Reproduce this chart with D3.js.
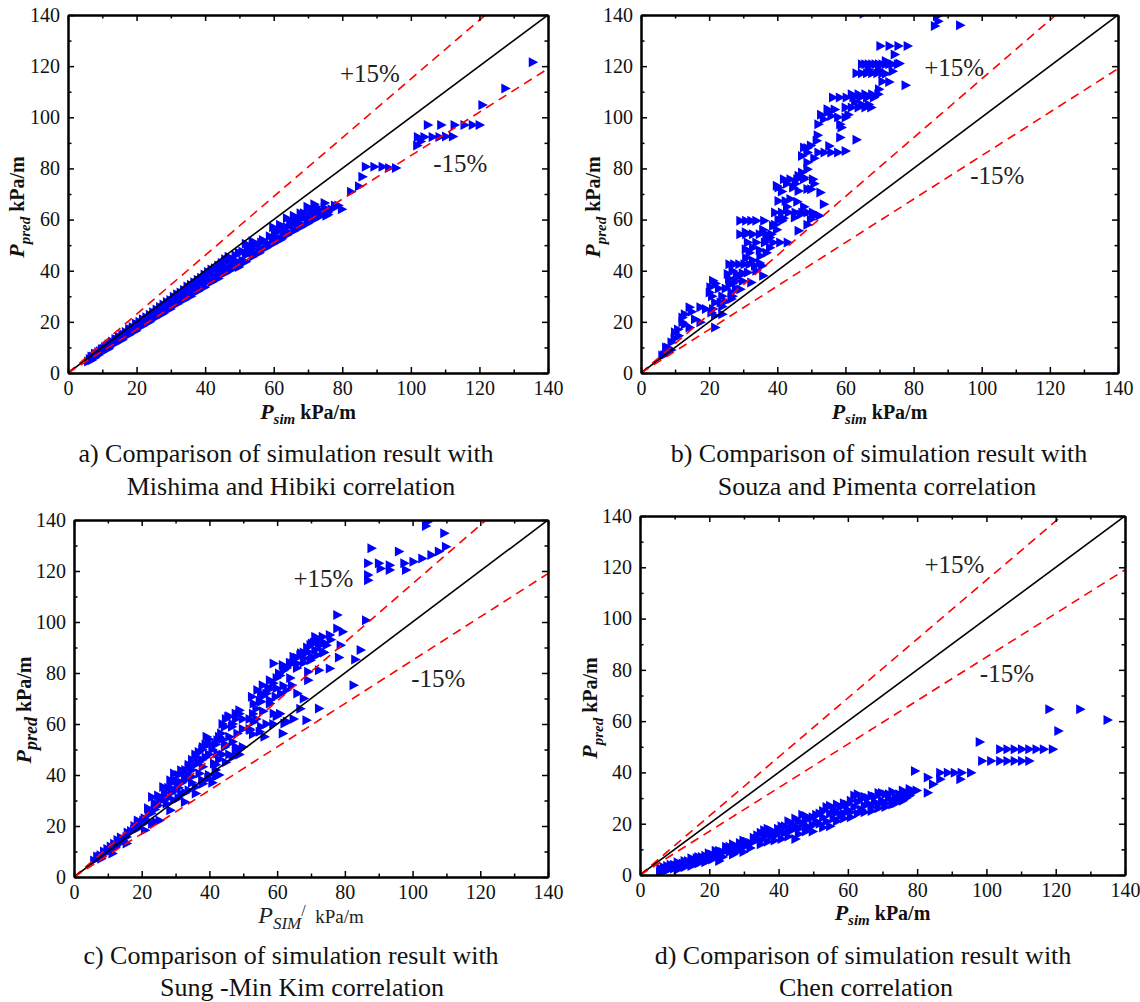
<!DOCTYPE html>
<html><head><meta charset="utf-8">
<script src="https://cdn.jsdelivr.net/npm/d3@7"></script>
<style>
body{margin:0;background:#fff;}
svg text{font-family:"Liberation Serif","Times New Roman",serif;}
</style></head><body>
<svg id="chart" width="1140" height="1002"></svg>
<script>
// ---------------- data ----------------
const tickValues = [0,20,40,60,80,100,120,140];
const minorTickValues = [10,30,50,70,90,110,130];
const bandLabels = ["+15%","-15%"];
const bandFactors = [1.15, 1.0, 0.85];

const captionA = ["a) Comparison of simulation result with","Mishima and Hibiki correlation"];
const captionB = ["b) Comparison of simulation result with","Souza and Pimenta correlation"];
const captionC = ["c) Comparison of simulation result with","Sung -Min Kim correlation"];
const captionD = ["d) Comparison of simulation result with","Chen correlation"];

// Mishima & Hibiki
const dataA = [[6,4.5],[6.5,5.5],[7,5],[7.5,6.5],[8,6],[8.5,7.5],[9,7],[9.5,8.5],[10,8],[10.5,9.5],[11,9],[11.5,10.5],[12,10],[12.5,11],[13,11.5],[14,12],[14.5,13],[15,12.5],[16,14],[16.5,15],[17,14.5],[18,16],[18.5,17],[19,16],[20,17.5],[20.5,19],[21,18],[22,19.5],[22.5,20.5],[23,19.5],[24,21],[25,22.5],[25.5,21.5],[26,23.5],[27,24],[27.5,23],[28,25.5],[29,25],[29.5,27],[30,26],[31,27.5],[31.5,29],[32,28],[33,29.5],[33.5,31],[34,30],[35,31.5],[35.5,33],[36,31],[37,33],[37.5,34.5],[38,33],[39,35],[39.5,36.5],[40,35],[41,37],[41.5,38.5],[42,36.5],[43,38],[43.5,40],[44,38.5],[45,40],[46,41.5],[47,40.5],[47.5,43],[48,42],[49,44],[50,42.5],[51,44],[52,46],[52.5,49],[53,47],[54,48.5],[54.5,50],[55,46.5],[56,49],[56.5,51],[57,48.5],[58,51],[59,50],[60,52],[60.5,55],[61,53],[62,56],[62.5,52.5],[63,54.5],[64,57],[64.5,55],[65,58],[66,56],[66.5,59],[67,57.5],[68,60],[68.5,58],[69,61],[70,59.5],[70.5,63],[71,61],[72,62.5],[72.5,65],[73,61],[74,63],[75,64.5],[75.5,61.5],[76,63],[78,65.5],[80,64],
[7,6.5],[8,7.5],[9,8.2],[10,9.3],[11,10.2],[12,11.2],[13,12.3],[14,13.3],[15,14.2],[16,15],[17,16],[18,17.2],[19,18],[20,19.3],[21,20],[22,21],[23,21.8],[24,22.8],[25,23.8],[26,24.8],[27,25.8],[28,26.8],[29,27.8],[30,28.5],[31,29.8],[32,30.8],[33,31.5],[34,32.5],[35,33.8],[36,34.5],[37,35.5],[38,36.5],[39,37.2],[40,38.5],[41,39.5],[42,40.5],[43,41],[44,42],[45,43],[46,44.5],[47,45.5],[48,44],[49,46],[50,47],
[12,9.5],[14,11.5],[16,13],[18,15],[20,16.5],[22,18.5],[24,20],[26,22],[28,23.5],[30,25],[32,27],[34,28.5],[36,30],[38,32],[40,33.5],[42,35.5],[44,37],[46,39],[48,40.5],[50,41.5],[52,43.5],[54,45.5],[56,47],[58,49],[60,50.5],[62,52],[64,54],[66,55.5],[68,57],[70,58.5],[72,60],[74,61.5],[76,62],[77,64],[79,65.5],
[51,47.5],[53,49.5],[55,50.5],[57,52],[59,53.5],[61,55],[63,57],[65,59.5],[67,60],[69,62.5],[71,64],[73,64],[52,50.5],[54,51.5],[60,57],[62,58],[64,60.5],[66,61.5],[68,62.5],[70,65],[72,66],[75,66.5],[47,44],[45,42],
[82.7,70.9],[85,73],[86,76.7],[87,80.7],[89.5,80.7],[91.9,80.7],[93.8,80.2],[95.8,80.2],[102,89],[103,90.5],[102.2,92.3],[104.1,92.3],[106.5,92.3],[108.5,92.3],[110.4,92.5],[112.4,92.5],[105.1,97],[109,97],[112.9,97],[115.8,97],[118.2,97],[120.2,97],[121,104.8],[127.7,111.3],[135.7,121.5]];

// Souza & Pimenta
const dataB = [[65.5,140.5],[87,139.5],[87.4,137.6],[86.4,135.7],[93.8,136],[70.4,127.9],[73.1,127.9],[75.7,127.9],[78.4,127.9],[74.6,124.6],[65,120.7],[66,120.7],[67,120.7],[68,120.7],[69,120.7],[70,120.7],[71,120.7],[72,120.7],[73,120.7],[74,120.7],[75.5,120.7],[63.4,117.2],[65,117.2],[66.5,117.2],[68,117.2],[69.5,117.2],[71,117.2],[73,113.8],[77.8,112.5],[56.5,107.7],[58.5,107.7],[60.5,107.7],[62.5,107.7],[64.5,107.7],[66.5,107.7],[68.5,107.7],[69.8,109],[60.2,103.8],[62,103.8],[64,103.8],[66,103.8],[67.7,103.8],[54.9,103.1],[56,100.5],[52.2,97.3],[53.8,99.2],[60.2,99.9],[58.6,97.3],[58.6,92.1],[63.4,91.2],[51.7,90.8],[55.4,88.8],[52.2,86.2],[54,86.2],[56,86.2],[58,86.2],[60.2,86.8],[48,88.2],[49,86.2],[47.4,84.9],[49,82.3],[49,79.7],[47.4,78.4],[46.4,77.1],[42.1,75.8],[44,75.8],[46,75.8],[48,75.8],[50.6,75.8],[40,73.2],[40.5,72.5],[44.8,72.5],[46.4,71.2],[50.1,71.9],[52.8,70.6],[53.8,66],[40.5,67.3],[42.6,67.3],[39.5,62.8],[41.5,62.8],[43.5,62.8],[45.5,62.8],[47.5,62.8],[49,62.8],[50.6,62.8],[45.3,60.8],[46.4,55.6],[29.3,59.5],[31,59.5],[32.5,59.5],[34,59.5],[36.3,59.5],[38.9,57.6],[41.6,59.5],[29.3,54.3],[31,54.3],[33,54.3],[35,54.3],[37,54.3],[38.4,54.3],[31.5,51],[34,51],[36.5,51],[39,51],[41,51],[43.2,51],[30.9,48.4],[30.9,55],[26.1,42.5],[27.5,42.5],[29,42.5],[30.5,42.5],[32,42.5],[33.6,41.9],[35.2,45.8],[35.7,41.9],[25.6,38.7],[28.3,38.7],[31.5,39.3],[32.5,35.4],[21.3,36.1],[20.3,31.5],[26.1,34.8],[26.7,31.5],[29.3,32.8],[26.7,28.9],[21.9,27.6],[23.5,27.6],[21.3,25],[14.4,25.7],[17.6,25.7],[19.2,25],[12.3,21.7],[12.3,19.8],[14.4,17.8],[21.9,17.8],[21.9,22.4],[24,23],[10.1,15.9],[11.2,14.6],[9.1,12],[7.5,10],[8,8.1],[6.4,6.8],[20.8,23.7],[17.6,19.8],
[20.5,33.5],[22,35],[23,33],[21,30],[24,30],[25,33],[26,37],[27,40],[28,36],[30,36],[31,45],[32,47],[33,44],[34,40],[35,43],[36,38],[37,47],[33,49],[35,48],[36,56],[37,52],[38,49],[39.5,58],[40,56],[42,60.5],[43,65],[44,68],[46,67],[47,62],[48,65],[49,72],[51,74],[49,88],[50,89],[51,84],[52,93],[53,101],[55,102],[57,103],[58,100],[59,96],[61,101],[63,106],[65,105],[67,105],[62,109],[64,109],[66,109],[68,109],[70,111],[71,114],[72,117],[67,118.5],[70,118.5],[72,122],[74,118],[76,121],[13,23],[15,24],[16,21],[13,19],[11,17],[10,13.5],[8,10],[9,9],[7,7],[25,28],[27,30],[28,33],[29,38],[30,39],[27,35],[24,26],[45.5,74],[41.5,71],[43,74],[48,76.5],[38,53],[40.5,60],[50,60],[51,61.5],[52.5,61.5],[49,58]];

// Sung-Min Kim
const dataC = [[104.6,139.3],[104.1,137.6],[109.5,134.8],[88,128.9],[96.1,127.6],[110,129.5],[100.4,123.6],[103,124.9],[105.7,126.3],[107.9,127.6],[87,123],[90.2,123],[93.4,122.3],[97.7,123],[90.7,121],[93.4,120.4],[98.2,120.4],[87,118.4],[87,116.4],[77.9,102.7],[77.9,97.5],[79.5,96.2],[86.4,100.7],[78.9,90.9],[84.8,89],[83.2,85.3],[82.7,75.2],[78.4,86.1],[75.7,81.8],[72.5,81.1],[69.3,80.5],[69.3,77.2],[72.5,66.1],[68.8,61.5],[71.4,94.2],[73.6,94.2],[75.7,94.9],[70.4,91.6],[72.5,91.6],[74.7,90.9],[71.4,89],[73.6,88.3],[69.3,88.3],[67.2,87.7],[65,86.4],[68.2,85.7],[70.4,86.4],[66.1,83.7],[63.9,83.7],[61.8,83.1],[59.1,83.7],[60.7,79.8],[58,77.2],[55.9,75.2],[54.3,73.3],[52.7,70.7],[55.4,72],[57.5,73.3],[53.2,68],[55.4,68.7],[58,69.3],[59.7,70.7],[61.3,72],[62.9,73.3],[64.5,75.2],[66.1,72],[59.1,64.1],[62.3,60.2],[56.4,55],[61.8,56.3],[53.2,60.8],[55.4,58.9],[52.2,57.6],[47.9,64.1],[45.7,62.8],[49,65.4],[44.7,58.9],[46.8,58.9],[48.4,56.3],[43.6,56.3],[42.5,53.6],[39.3,55],[38.2,51],[40.4,52.3],[44.7,51],[47.9,49.7],[42.5,48.4],[41.5,44.5],[39.8,38.6],[42,39.3],[36.1,47.1],[34,43.2],[31.8,41.9],[29.7,40.6],[28.6,37.9],[26.5,35.3],[30.7,36.6],[32.9,39.3],[35,39.3],[37.2,40.6],[38.2,43.2],[36.1,35.3],[34,34],[31.8,32.7],[29.7,30.1],[27.5,28.8],[25.4,30.1],[23.2,31.4],[24.3,27.5],[22.2,24.9],[20.6,22.2],[19,22.2],[21.1,18.3],[23.2,20.9],[24.3,21.6],[17.9,18.3],[15.7,15.7],[13.6,13.1],[14.7,14.4],[12.5,11.8],[10.4,10.5],[9.3,9.2],[7.7,7.9],[6.1,6.5],[8.2,7.2],[11.5,9.2],[15.7,13.1],[38.2,36.6],[36.1,32.7],[32.9,29.4],[28.6,26.2],[25.4,22.2],
[7,8],[8,8.5],[9,10],[10,11],[11,12],[12,13],[13,14.5],[14,15.5],[16,17.5],[17,18],[18,20],[19,21],[19,19],[20,20.5],[21,23],[22,22],[22,27],[23,25],[24,26.5],[24,29],[25,28],[25,32],[26,30],[27,33],[27,31],[28,35],[28,31],[29,37],[29,33],[30,38],[30,34],[31,40],[31,35],[32,41],[32,37],[33,42],[33,38],[34,44],[34,40],[35,46],[35,42],[36,48],[36,44],[37,49],[37,45],[38,50],[38,46],[39,52],[39,47],[40,54],[40,48],[41,50],[42,52],[43,55],[44,60],[45,62],[46,63],[44,54],[45,52],[46,55],[47,60],[48,62],[49,64],[50,62],[50,58],[47,53],[48,51],[49,50],[43,46],[44,48],[42,44],
[52,62],[53,64],[54,66],[55,69],[56,71],[57,72],[58,74],[59,76],[60,78],[61,79],[62,81],[63,82],[64,84],[65,84],[66,86],[67,87],[68,88],[69,90],[70,91],[71,92],[72,93],[73,91],[74,92],[76,93],[66,82],[68,84],[70,85],[72,87],[74,88],[60,74],[62,75],[64,78],[58,68],[56,65],[54,62],[57,60],[59,60],[61,64],[63,61],[65,62],[67,66],[68,70],[52,58],[53,56],[55,57],[60,63],
[38,38],[40,40],[42,42],[45,45],[47,47],[49,48],[50,51],[41,37],[43,40],[35,37],[33,33],[31,31],[46,48],[48,49]];

// Chen
const dataD = [[6,1],[6,2.5],[7,2],[8,1.8],[8,3.5],[9,2.5],[10,2.5],[10,4],[11,3.5],[12,3],[12.5,4.5],[13.5,4],[14,5.5],[15,4.5],[16,5.5],[16.5,6.5],[18,5.5],[18,7],[19,7.5],[20,6.5],[21,8],[22,7],[22,9.5],[23,8],[24,9],[25,9.5],[26,9],[26,11],[27,10.5],[28,11],[29,10.5],[30,12],[31,11.5],[31,13],[32,12.5],[33,13],[34,14],[34,15.5],[35,13.5],[36,15],[36,17.5],[37,16],[38,15],[38,17.5],[39,16.5],[40,16],[40,18],[41,17],[42,16.5],[42,19],[43,18],[44,17.5],[44,20],[45,19],[46,18],[46,21],[47,23.5],[47,20],[48,19],[48,21.5],[49,22],[50,19.5],[50,22.5],[51,21],[52,20],[52,24],[53,22.5],[54,21],[54,26.5],[55,24],[56,22],[56,25.5],[57,24.5],[58,23],[58,26.5],[59,24],[60,25.5],[60,27.5],[61,24.5],[62,26.5],[62,31],[63,28.5],[64,25.5],[64,29.5],[65,27],[66,28],[66,30],[67,26.5],[68,28.5],[68,30.5],[69,27.5],[70,29],[70,32],[71,28],[72,30],[72,31.5],[73,29],[74,30.5],[75,29.5],[75,31.5],[76,30.5],[77,31.5],[78,31],[78,33.5],[79,32.5],
[6,0.8],[7,3],[9,4],[11,2],[11,5],[13,3],[13,5.5],[15,3.5],[15,6.5],[17,4.5],[17,7],[19,5],[20,8.5],[21,6],[23,5.5],[23,9.5],[24,7],[25,11],[27,8],[27,12],[28,9],[29,12.5],[30,9],[30,13.5],[32,10.5],[33,14.5],[35,12],[35,16.5],[37,13],[37,18],[39,13.5],[41,14],[41,19],[43,15],[43,21],[45,14],[45,22],[46,16],[48,17],[48,23],[49,18.5],[50,17],[51,23.5],[53,18.5],[53,25],[55,19],[55,27],[57,21],[57,27.5],[59,22],[59,28],[61,22.5],[61,29],[63,24],[63,31.5],[65,24.5],[65,30.5],[67,25],[67,31],[69,26],[69,32],[71,26.5],[71,31.5],[73,27.5],[73,32.5],[74,28],[76,29],[76,33],[77,30],[78,32.5],[80,33],
[79.5,40.6],[83.2,38],[83.2,32.1],[84.7,35.4],[86.8,37.3],[86.8,39.9],[89,39.9],[91,39.9],[93,39.9],[95.7,39.9],[92.6,37.3],[98.2,51.9],[98.9,44.5],[101.5,44.5],[104.1,44.5],[106.2,44.5],[108.3,44.5],[110.4,44.5],[112.5,44.5],[104.1,49],[106.2,49],[108.3,49],[110.4,49],[112.5,49],[114.6,49],[116.7,49],[119.3,49],[118.3,64.6],[127.2,64.6],[135.1,60.4],[120.9,56.2]];

// ---------------- layout ----------------
const panels = [
  {id:"a", data:dataA, caption:captionA, left:68, right:548, top:15, bottom:373,
   ann:[[79.3,113.8],[106.5,78.6]], yl:[24,207], xlY:419, capX:[286,291], capY:[462,495], xStyle:"bold"},
  {id:"b", data:dataB, caption:captionB, left:641, right:1118, top:15, bottom:373,
   ann:[[83.1,116.1],[96.6,73.9]], yl:[600,207], xlY:419, capX:[879,877], capY:[462,495], xStyle:"bold"},
  {id:"c", data:dataC, caption:captionC, left:74, right:548, top:520, bottom:877,
   ann:[[64.8,113.8],[99.6,74.6]], yl:[31,710], xlY:923, capX:[291,302], capY:[964,996], xStyle:"plain"},
  {id:"d", data:dataD, caption:captionD, left:640, right:1125, top:516, bottom:875,
   ann:[[82.1,117.9],[98.1,75.3]], yl:[597,708], xlY:920, capX:[863,866], capY:[964,996], xStyle:"bold"}
];

const svg = d3.select("#chart");
const tri = "M-4.5,-5L5,0L-4.5,5Z";

panels.forEach(p => {
  const x = d3.scaleLinear().domain([0,140]).range([p.left,p.right]);
  const y = d3.scaleLinear().domain([0,140]).range([p.bottom,p.top]);
  const g = svg.append("g");
  const clipId = "clip" + p.id;
  svg.append("clipPath").attr("id", clipId).append("rect")
    .attr("x", p.left).attr("y", p.top).attr("width", p.right - p.left).attr("height", p.bottom - p.top);

  const inner = g.append("g").attr("clip-path", `url(#${clipId})`);
  inner.append("g").selectAll("path").data(p.data).join("path")
    .attr("d", tri)
    .attr("transform", d => `translate(${x(d[0])},${y(d[1])})`)
    .attr("fill", "#0000ff");

  bandFactors.forEach(f => {
    const xe = Math.min(140, 140 / f);
    inner.append("line")
      .attr("x1", x(0)).attr("y1", y(0)).attr("x2", x(xe)).attr("y2", y(xe * f))
      .attr("stroke", f === 1 ? "#000" : "#ff0000")
      .attr("stroke-width", 1.6)
      .attr("stroke-dasharray", f === 1 ? null : "9,6");
  });

  const styleAxis = sel => {
    sel.select(".domain").attr("stroke", "#000").attr("stroke-width", 2);
    sel.selectAll(".tick line").attr("stroke", "#000").attr("stroke-width", 1.5);
    sel.selectAll(".tick text").attr("font-size", 20).attr("fill", "#111")
      .attr("font-family", "'Liberation Serif','Times New Roman',serif");
  };
  const mk = (axisFn, scale, pos, labels) => {
    const tr = (axisFn === d3.axisBottom || axisFn === d3.axisTop) ? `translate(0,${pos})` : `translate(${pos},0)`;
    const a1 = axisFn(scale).tickValues(tickValues).tickSize(-6).tickSizeOuter(0).tickPadding(labels ? 8 : 0);
    if (!labels) a1.tickFormat("");
    g.append("g").attr("transform", tr).call(a1).call(styleAxis);
    const a2 = axisFn(scale).tickValues(minorTickValues).tickSize(-3.5).tickSizeOuter(0).tickFormat("");
    g.append("g").attr("transform", tr).call(a2).call(styleAxis);
  };
  mk(d3.axisBottom, x, p.bottom, true);
  mk(d3.axisTop, x, p.top, false);
  mk(d3.axisLeft, y, p.left, true);
  mk(d3.axisRight, y, p.right, false);

  p.ann.forEach((a, i) => {
    g.append("text").attr("x", x(a[0])).attr("y", y(a[1]))
      .attr("font-size", 25).attr("fill", "#222").text(bandLabels[i]);
  });

  const yl = g.append("text")
    .attr("transform", `translate(${p.yl[0]},${p.yl[1]}) rotate(-90)`)
    .attr("text-anchor", "middle").attr("font-size", 20).attr("font-weight", "bold").attr("fill", "#111");
  yl.append("tspan").attr("font-style", "italic").attr("font-size", 22).text("P");
  yl.append("tspan").attr("font-style", "italic").attr("font-size", p.id === "c" ? 18 : 15).attr("dy", 6).text("pred");
  yl.append("tspan").attr("dy", -6).text(" kPa/m");

  const cx = (p.left + p.right) / 2;
  const xl = g.append("text").attr("x", cx).attr("y", p.xlY).attr("text-anchor", "middle").attr("fill", "#111");
  if (p.xStyle === "bold") {
    xl.attr("font-size", 20).attr("font-weight", "bold");
    xl.append("tspan").attr("font-style", "italic").attr("font-size", 22).text("P");
    xl.append("tspan").attr("font-style", "italic").attr("font-size", 15).attr("dy", 5).text("sim");
    xl.append("tspan").attr("dy", -5).text(" kPa/m");
  } else {
    xl.attr("font-size", 19).attr("fill", "#222");
    xl.append("tspan").attr("font-style", "italic").attr("font-size", 24).text("P");
    xl.append("tspan").attr("font-style", "italic").attr("font-size", 17).attr("dy", 6).text("SIM");
    xl.append("tspan").attr("font-size", 16).attr("dy", -13).text("/");
    xl.append("tspan").attr("dy", 7).text("\u00a0 kPa/m");
  }

  p.caption.forEach((c, i) => {
    g.append("text").attr("x", p.capX[i]).attr("y", p.capY[i]).attr("text-anchor", "middle")
      .attr("font-size", 26).attr("fill", "#111").text(c);
  });
});
</script>
</body></html>
